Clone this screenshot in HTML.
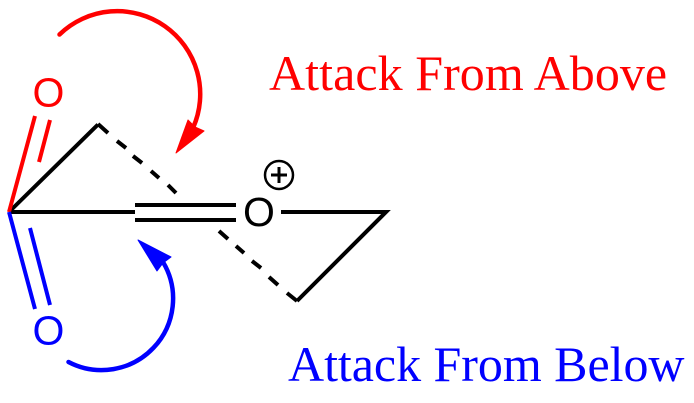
<!DOCTYPE html>
<html>
<head>
<meta charset="utf-8">
<style>
html,body{margin:0;padding:0;background:#fff;width:694px;height:403px;overflow:hidden}
svg{display:block}
.o{font-family:"Liberation Sans",sans-serif;font-size:41px;text-anchor:middle}
.t{font-family:"Liberation Serif",serif;font-size:50px}
</style>
</head>
<body>
<svg width="694" height="403" viewBox="0 0 694 403" xmlns="http://www.w3.org/2000/svg">
<rect width="694" height="403" fill="#fff"/>
<!-- black bonds -->
<g stroke="#000" stroke-width="4" fill="none">
<path d="M9 212L98 124.500"/>
<path d="M9 212H135"/>
<path d="M135 205H236M135 220H236"/>
<path d="M281 212H386L297 301"/>
<path d="M98 124L108 133M117 141L126 148M133 156L142 163M151 171L159 178M168 185L176 193"/>
<path d="M219 231L228 239M236 246L244 253M252 261L261 268M269 277L278 285M287 293L297 301"/>
</g>
<!-- red -->
<g stroke="#f00" stroke-width="4" fill="none">
<path d="M9 212L35 116M50 120L39 162"/>
<path d="M59.500 34.500A83 83 0 0 1 193 128" stroke-width="4.500" stroke-linecap="round"/>
</g>
<path d="M176 153L188 120L195 127L204 131Z" fill="#f00" stroke="#f00" stroke-width="1" stroke-linejoin="round"/>
<!-- blue -->
<g stroke="#00f" stroke-width="4" fill="none">
<path d="M9 212L35 309M30 228L50 305"/>
<path d="M68.500 362A71.500 71.500 0 0 0 163 262" stroke-width="4.500" stroke-linecap="round"/>
</g>
<path d="M138 240L171 257L163 263L157 271Z" fill="#00f" stroke="#00f" stroke-width="1" stroke-linejoin="round"/>
<!-- atoms -->
<text class="o" x="48.500" y="106.500" fill="#f00">O</text>
<text class="o" x="48.500" y="344.500" fill="#00f">O</text>
<text class="o" x="259" y="226" fill="#000">O</text>
<circle cx="279" cy="175" r="14" fill="none" stroke="#000" stroke-width="2.500"/>
<path d="M271 175H287M279 167V183" stroke="#000" stroke-width="3" fill="none"/>
<!-- labels -->
<text class="t" x="269" y="90" fill="#f00" style="letter-spacing:.06px">Attack From Above</text>
<text class="t" x="288" y="381" fill="#00f" style="letter-spacing:-.04px">Attack From Below</text>
</svg>
</body>
</html>
